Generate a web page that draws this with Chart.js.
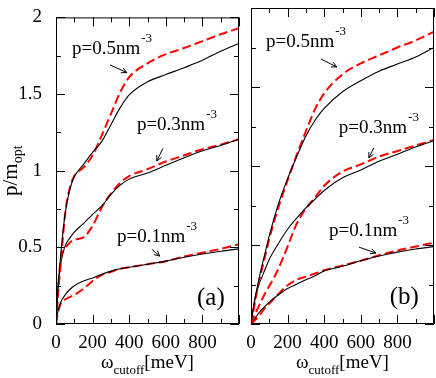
<!DOCTYPE html>
<html>
<head>
<meta charset="utf-8">
<script src="https://cdn.jsdelivr.net/npm/chart.js@4"></script>
<style>
  html, body { margin: 0; padding: 0; background: #fff; }
  #wrap { position: relative; width: 436px; height: 378px; font-family: 'Liberation Serif', serif; }
  #wrap canvas { position: absolute; top: 0; }
  #probe { position: absolute; left: -999px; top: 0; font: 19px 'Liberation Serif'; }
</style>
</head>
<body>
<div id="wrap">
  <span id="probe">p=0.5nm ω 0123456789</span>
  <canvas id="chartA" width="245" height="378" style="left:0"></canvas>
  <canvas id="chartB" width="191" height="378" style="left:245px"></canvas>
</div>
<script>
// x values (omega cutoff, meV)
const omega = [0, 10, 25, 50, 75, 100, 150, 200, 250, 300, 350, 400, 500, 600, 700, 800, 900, 1000];

// panel (a): solid = black, dashed = red
const a05Solid  = [0, 0.22, 0.44, 0.72, 0.875, 0.96, 1.04, 1.12, 1.19, 1.30, 1.41, 1.495, 1.58, 1.627, 1.672, 1.72, 1.78, 1.83];
const a05Dashed = [0, 0.18, 0.38, 0.72, 0.885, 0.965, 1.02, 1.10, 1.23, 1.37, 1.51, 1.61, 1.70, 1.76, 1.80, 1.845, 1.89, 1.93];
const a03Solid  = [0, 0.22, 0.39, 0.51, 0.56, 0.60, 0.655, 0.715, 0.77, 0.845, 0.905, 0.945, 0.985, 1.035, 1.085, 1.13, 1.165, 1.205];
const a03Dashed = [0, 0.20, 0.41, 0.49, 0.53, 0.55, 0.565, 0.64, 0.76, 0.85, 0.92, 0.965, 1.01, 1.06, 1.10, 1.14, 1.17, 1.205];
const a01Solid  = [0, 0.08, 0.14, 0.19, 0.225, 0.25, 0.28, 0.30, 0.325, 0.345, 0.36, 0.37, 0.39, 0.41, 0.435, 0.457, 0.475, 0.49];
const a01Dashed = [0, 0.07, 0.13, 0.16, 0.175, 0.19, 0.23, 0.28, 0.32, 0.34, 0.36, 0.37, 0.39, 0.41, 0.44, 0.465, 0.49, 0.52];

// panel (b)
const b05Solid  = [0, 0.08, 0.18, 0.32, 0.44, 0.56, 0.76, 0.92, 1.06, 1.19, 1.29, 1.365, 1.47, 1.54, 1.60, 1.645, 1.69, 1.75];
const b05Dashed = [0, 0.06, 0.16, 0.30, 0.42, 0.54, 0.74, 0.91, 1.07, 1.22, 1.36, 1.46, 1.58, 1.65, 1.70, 1.75, 1.795, 1.85];
const b03Solid  = [0, 0.08, 0.18, 0.27, 0.34, 0.41, 0.51, 0.60, 0.67, 0.735, 0.79, 0.845, 0.925, 0.975, 1.03, 1.075, 1.12, 1.16];
const b03Dashed = [0, 0.03, 0.07, 0.13, 0.19, 0.24, 0.35, 0.49, 0.635, 0.73, 0.80, 0.875, 0.965, 1.01, 1.06, 1.095, 1.13, 1.165];
const b01Solid  = [0, 0.018, 0.042, 0.08, 0.11, 0.138, 0.185, 0.225, 0.252, 0.28, 0.305, 0.335, 0.365, 0.40, 0.43, 0.455, 0.475, 0.49];
const b01Dashed = [0, 0.012, 0.028, 0.06, 0.10, 0.13, 0.19, 0.245, 0.28, 0.30, 0.32, 0.34, 0.37, 0.40, 0.435, 0.465, 0.49, 0.515];

// tick labels
const xTickLabels = ['0', '200', '400', '600', '800', ''];
const yTickLabels = ['0', '0.5', '1', '1.5', '2'];
const densityLabels = ['p=0.5nm', 'p=0.3nm', 'p=0.1nm'];

const FONT = "'Liberation Serif', 'DejaVu Serif', serif";

const pts = (vals) => omega.map((w, i) => ({ x: w, y: vals[i] }));

const solid = (vals) => ({
  data: pts(vals), borderColor: '#000', borderWidth: 1.1,
  pointRadius: 0, cubicInterpolationMode: 'monotone', fill: false
});
const dashed = (vals) => ({
  data: pts(vals), borderColor: '#ff0000', borderWidth: 2, borderDash: [9, 4],
  pointRadius: 0, cubicInterpolationMode: 'monotone', fill: false
});

function seg(ctx, x1, y1, x2, y2) {
  ctx.beginPath(); ctx.moveTo(x1, y1); ctx.lineTo(x2, y2); ctx.stroke();
}

function arrow(ctx, x1, y1, x2, y2) {
  seg(ctx, x1, y1, x2, y2);
  const a = Math.atan2(y2 - y1, x2 - x1), s = 6;
  seg(ctx, x2, y2, x2 - s * Math.cos(a - 0.45), y2 - s * Math.sin(a - 0.45));
  seg(ctx, x2, y2, x2 - s * Math.cos(a + 0.45), y2 - s * Math.sin(a + 0.45));
}

// frame, inside ticks, labels and titles
const framePlugin = {
  id: 'frame',
  afterDatasetsDraw(chart, args, opts) {
    const { ctx, chartArea: ca, scales: { x, y } } = chart;
    ctx.save();
    ctx.strokeStyle = '#000';
    ctx.fillStyle = '#000';
    ctx.lineWidth = 1;
    ctx.strokeRect(ca.left + 0.5, ca.top + 0.5, ca.right - ca.left - 1, ca.bottom - ca.top - 1);

    for (let v = 0; v <= 1000; v += 100) {
      const px = Math.round(x.getPixelForValue(v)) + 0.5;
      const len = v % 200 === 0 ? 9 : 5;
      seg(ctx, px, ca.bottom, px, ca.bottom - len);
      seg(ctx, px, ca.top, px, ca.top + len);
    }
    for (let k = 0; k <= 8; k++) {
      const py = Math.round(y.getPixelForValue(k * 0.25)) + 0.5;
      const len = k % 2 === 0 ? 9 : 5;
      seg(ctx, ca.left, py, ca.left + len, py);
      seg(ctx, ca.right, py, ca.right - len, py);
    }

    ctx.textBaseline = 'alphabetic';
    ctx.textAlign = 'left';
    opts.notes.forEach((n, i) => {
      const tx = x.getPixelForValue(n.x), ty = y.getPixelForValue(n.y);
      ctx.font = '19px ' + FONT;
      ctx.fillText(densityLabels[i], tx, ty);
      const w = ctx.measureText(densityLabels[i]).width;
      ctx.font = '13px ' + FONT;
      ctx.fillText('-3', tx + w + 1, ty - 12);
      const ar = opts.arrows[i];
      arrow(ctx, x.getPixelForValue(ar[0]), y.getPixelForValue(ar[1]),
                 x.getPixelForValue(ar[2]), y.getPixelForValue(ar[3]));
    });

    ctx.font = '25px ' + FONT;
    ctx.textAlign = 'right';
    ctx.fillText(opts.panel, x.getPixelForValue(opts.panelPos[0]), y.getPixelForValue(opts.panelPos[1]));

    // x title: omega_cutoff[meV]
    ctx.textAlign = 'left';
    ctx.font = '19px ' + FONT;
    const w1 = ctx.measureText('\u03c9').width;
    const w3 = ctx.measureText('[meV]').width;
    ctx.font = '13px ' + FONT;
    const w2 = ctx.measureText('cutoff').width;
    let sx = (ca.left + ca.right) / 2 - (w1 + w2 + w3) / 2;
    const by = 368;
    ctx.font = '19px ' + FONT;
    ctx.fillText('\u03c9', sx, by);
    ctx.font = '13px ' + FONT;
    ctx.fillText('cutoff', sx + w1, by + 6);
    ctx.font = '19px ' + FONT;
    ctx.fillText('[meV]', sx + w1 + w2, by);

    if (opts.yTitle) {
      ctx.translate(17, (ca.top + ca.bottom) / 2);
      ctx.rotate(-Math.PI / 2);
      ctx.font = '21px ' + FONT;
      const m1 = ctx.measureText('p/m').width;
      ctx.font = '14px ' + FONT;
      const m2 = ctx.measureText('opt').width;
      const s0 = -(m1 + m2) / 2;
      ctx.font = '21px ' + FONT;
      ctx.fillText('p/m', s0, 0);
      ctx.font = '14px ' + FONT;
      ctx.fillText('opt', s0 + m1, 5);
    }
    ctx.restore();
  }
};

function makeChart(id, sets, showY, padRight, plugOpts) {
  return new Chart(document.getElementById(id), {
    type: 'line',
    data: { datasets: sets },
    options: {
      responsive: false,
      animation: false,
      devicePixelRatio: 1,
      layout: { padding: { left: 0, right: padRight, top: 8, bottom: 0 } },
      plugins: { legend: { display: false }, tooltip: { enabled: false }, frame: plugOpts },
      scales: {
        x: {
          type: 'linear', min: 0, max: 1000,
          grid: { display: false }, border: { display: false },
          ticks: {
            stepSize: 200, autoSkip: false, maxRotation: 0, padding: 0,
            color: '#000', font: { family: FONT, size: 19 },
            callback: (v, i) => xTickLabels[i]
          },
          afterFit: (s) => { s.height = 54; }
        },
        y: {
          type: 'linear', min: 0, max: 2,
          grid: { display: false }, border: { display: false },
          ticks: {
            display: showY, stepSize: 0.5, padding: 6,
            color: '#000', font: { family: FONT, size: 19 },
            callback: (v, i) => yTickLabels[i]
          },
          afterFit: (s) => { s.width = showY ? 56 : 6; }
        }
      }
    },
    plugins: [framePlugin]
  });
}

function drawAll() {
  makeChart('chartA', [
    solid(a05Solid), dashed(a05Dashed),
    solid(a03Solid), dashed(a03Dashed),
    solid(a01Solid), dashed(a01Dashed)
  ], true, 6, {
    notes: [{ x: 87, y: 1.76 }, { x: 442, y: 1.266 }, { x: 333, y: 0.532 }],
    arrows: [[295, 1.69, 387, 1.64], [584, 1.146, 551, 1.063], [524, 0.487, 567, 0.443]],
    panel: '(a)', panelPos: [922, 0.127], yTitle: true
  });

  makeChart('chartB', [
    solid(b05Solid), dashed(b05Dashed),
    solid(b03Solid), dashed(b03Dashed),
    solid(b01Solid), dashed(b01Dashed)
  ], false, 2, {
    notes: [{ x: 82, y: 1.753 }, { x: 480, y: 1.209 }, { x: 426, y: 0.557 }],
    arrows: [[382, 1.677, 469, 1.627], [671, 1.114, 644, 1.051], [589, 0.487, 682, 0.449]],
    panel: '(b)', panelPos: [917, 0.127], yTitle: false
  });
}

if (document.fonts && document.fonts.load) {
  Promise.all([
    document.fonts.load("19px 'Liberation Serif'"),
    document.fonts.load("13px 'Liberation Serif'")
  ]).then(drawAll, drawAll);
} else {
  drawAll();
}
</script>
</body>
</html>
